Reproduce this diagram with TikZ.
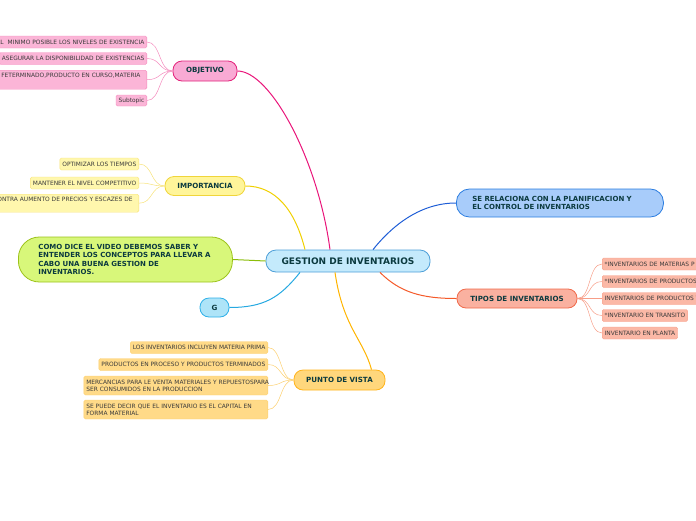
\documentclass[tikz,border=0pt]{standalone}
\usepackage{fontspec}
\setmainfont{DejaVu Sans}
\usetikzlibrary{positioning}

\definecolor{txtmain}{HTML}{0B3A3F}
\definecolor{txtsub}{HTML}{3A3A3A}
\definecolor{cenfill}{HTML}{C4EAFC}
\definecolor{cenline}{HTML}{4D9FD8}
\definecolor{pinkfill}{HTML}{F9AAD4}
\definecolor{pinkline}{HTML}{E2227A}
\definecolor{pinksub}{HTML}{FBB5D7}
\definecolor{pinksubline}{HTML}{F48BBD}
\definecolor{pinkwire}{HTML}{E9157A}
\definecolor{yelfill}{HTML}{FFF59A}
\definecolor{yelline}{HTML}{F0D53A}
\definecolor{yelsub}{HTML}{FFF7AD}
\definecolor{yelsubline}{HTML}{F7E27A}
\definecolor{yelwire}{HTML}{F0D000}
\definecolor{grnfill}{HTML}{D8F77A}
\definecolor{grnline}{HTML}{9CC21A}
\definecolor{grnwire}{HTML}{8BBD0A}
\definecolor{cyfill}{HTML}{AEE4F8}
\definecolor{cyline}{HTML}{2EB0E8}
\definecolor{cywire}{HTML}{27A9E1}
\definecolor{orfill}{HTML}{FFD77C}
\definecolor{orline}{HTML}{FFB31A}
\definecolor{orsub}{HTML}{FFDA88}
\definecolor{orsubline}{HTML}{FCCF6E}
\definecolor{orwire}{HTML}{FFB400}
\definecolor{blfill}{HTML}{A8CCFA}
\definecolor{blline}{HTML}{2B7DE0}
\definecolor{blwire}{HTML}{1F5ED6}
\definecolor{safill}{HTML}{FAB1A0}
\definecolor{saline}{HTML}{F06A4A}
\definecolor{sasub}{HTML}{FBB8A6}
\definecolor{sasubline}{HTML}{F79D87}
\definecolor{sawire}{HTML}{F45A2A}

\begin{document}
\begin{tikzpicture}[x=1pt, y=-1pt,
    topic/.style={draw, line width=0.8pt, rounded corners=9pt, inner sep=0pt,
        font=\bfseries\fontsize{7.1}{8.6}\selectfont, text=txtmain, minimum height=20pt},
    sub/.style={draw, line width=0.4pt, rounded corners=1.5pt, inner xsep=2.5pt, inner ysep=1pt,
        font=\fontsize{5.9}{7.2}\selectfont, text=txtsub, minimum height=12pt},
    wire/.style={line width=1pt},
    twig/.style={line width=0.5pt}]
    \useasboundingbox (0,0) rectangle (696,520);
    \clip (0,0) rectangle (696,520);

    % central topic
    \node[topic, fill=cenfill, draw=cenline, minimum width=164pt, minimum height=22pt,
        rounded corners=10pt, font=\bfseries\fontsize{9}{10}\selectfont] (gest) at (348,261) {GESTION DE INVENTARIOS};

    % main topics
    \node[topic, fill=pinkfill, draw=pinkline, minimum width=64pt] (obj) at (205,71) {OBJETIVO};
    \node[topic, fill=yelfill, draw=yelline, minimum width=80pt, minimum height=19pt] (imp) at (205,186) {IMPORTANCIA};
    \node[topic, fill=grnfill, draw=grnline, anchor=west, rounded corners=21pt, minimum height=45pt,
        inner xsep=20pt, text width=174pt, align=left, font=\bfseries\fontsize{7}{8.5}\selectfont] (video) at (18,259.5)
        {\mbox{COMO DICE EL VIDEO DEBEMOS SABER Y}\\\mbox{ENTENDER LOS CONCEPTOS PARA LLEVAR A}\\\mbox{CABO UNA BUENA GESTION DE}\\INVENTARIOS.};
    \node[topic, fill=cyfill, draw=cyline, minimum width=29pt, minimum height=19pt] (g) at (214.5,307.5) {G};
    \node[topic, fill=orfill, draw=orline, minimum width=91pt] (pdv) at (339.5,380) {PUNTO DE VISTA};
    \node[topic, fill=blfill, draw=blline, anchor=west, rounded corners=13pt, minimum height=28pt,
        inner xsep=16pt, text width=175pt, align=left, font=\bfseries\fontsize{7}{8.5}\selectfont] (rel) at (456,203)
        {\mbox{SE RELACIONA CON LA PLANIFICACION Y}\\EL CONTROL DE INVENTARIOS};
    \node[topic, fill=safill, draw=saline, minimum width=120pt, minimum height=19pt] (tipos) at (517,298.5) {TIPOS DE INVENTARIOS};

    % main branches
    \draw[wire, pinkwire] ([xshift=-18pt]gest.north) .. controls +(-12,-90) and +(33,0) .. (obj.east);
    \draw[wire, yelwire] ([xshift=-43pt]gest.north) .. controls +(-10,-40) and +(30,0) .. (imp.east);
    \draw[wire, grnwire] (gest.west) -- (video.east);
    \draw[wire, cywire] ([xshift=-48pt]gest.south) .. controls +(-20,25) and +(35,0) .. (g.east);
    \draw[wire, orwire] ([xshift=-13pt]gest.south) .. controls +(8,55) and +(-8,-30) .. ([xshift=32pt]pdv.north);
    \draw[wire, blwire] ([xshift=25pt]gest.north) .. controls +(20,-25) and +(-35,0) .. (rel.west);
    \draw[wire, sawire] ([xshift=32pt]gest.south) .. controls +(20,20) and +(-35,0) .. (tipos.west);

    % objetivo
    \node[sub, fill=pinksub, draw=pinksubline, anchor=east, text width=175pt, align=right] (o1) at (147,42)
        {AL\ \ MINIMO POSIBLE LOS NIVELES DE EXISTENCIA};
    \node[sub, fill=pinksub, draw=pinksubline, anchor=east] (o2) at (147,58.5) {ASEGURAR LA DISPONIBILIDAD DE EXISTENCIAS};
    \node[sub, fill=pinksub, draw=pinksubline, anchor=north east, minimum height=19pt, text width=175pt, align=left] (o3) at (147,70)
        {\mbox{\hspace*{32pt}FETERMINADO,PRODUCTO EN CURSO,MATERIA}\\ \strut};
    \node[sub, fill=pinksub, draw=pinksubline, anchor=east, minimum height=11pt] (o4) at (147,100.5) {Subtopic};
    \foreach \k in {o1,o2,o3,o4}
        \draw[twig, pinksubline] (obj.west) .. controls +(-14,0) and +(14,0) .. (\k.east);

    % importancia
    \node[sub, fill=yelsub, draw=yelsubline, anchor=east] (i1) at (139,164) {OPTIMIZAR LOS TIEMPOS};
    \node[sub, fill=yelsub, draw=yelsubline, anchor=east] (i2) at (139,183) {MANTENER EL NIVEL COMPETITIVO};
    \node[sub, fill=yelsub, draw=yelsubline, anchor=north east, minimum height=18pt, text width=170pt, align=left] (i3) at (139,194)
        {\mbox{\hspace*{27pt}CONTRA AUMENTO DE PRECIOS Y ESCAZES DE}\\\mbox{\hspace*{27pt}A}};
    \foreach \k in {i1,i2,i3}
        \draw[twig, yelsubline] (imp.west) .. controls +(-14,0) and +(14,0) .. (\k.east);

    % punto de vista
    \node[sub, fill=orsub, draw=orsubline, anchor=east] (p1) at (268,347.5) {LOS INVENTARIOS INCLUYEN MATERIA PRIMA};
    \node[sub, fill=orsub, draw=orsubline, anchor=east] (p2) at (268,364.5) {PRODUCTOS EN PROCESO Y PRODUCTOS TERMINADOS};
    \node[sub, fill=orsub, draw=orsubline, anchor=east, minimum height=19pt, text width=179pt, align=left] (p3) at (268,385.5)
        {\mbox{MERCANCIAS PARA LE VENTA MATERIALES Y REPUESTOSPARA}\\SER CONSUMIDOS EN LA PRODUCCION};
    \node[sub, fill=orsub, draw=orsubline, anchor=east, minimum height=19pt, text width=179pt, align=left] (p4) at (268,409.5)
        {\mbox{SE PUEDE DECIR QUE EL INVENTARIO ES EL CAPITAL EN}\\FORMA MATERIAL};
    \foreach \k in {p1,p2,p3,p4}
        \draw[twig, orsubline] (pdv.west) .. controls +(-14,0) and +(14,0) .. (\k.east);

    % tipos de inventarios
    \node[sub, fill=sasub, draw=sasubline, anchor=west, text width=160pt, align=left] (t1) at (602,264) {*INVENTARIOS DE MATERIAS P};
    \node[sub, fill=sasub, draw=sasubline, anchor=west, text width=160pt, align=left] (t2) at (602,281.5) {*INVENTARIOS DE PRODUCTOS};
    \node[sub, fill=sasub, draw=sasubline, anchor=west, text width=160pt, align=left] (t3) at (602,298.5) {INVENTARIOS DE PRODUCTOS T};
    \node[sub, fill=sasub, draw=sasubline, anchor=west] (t4) at (602,315.5) {*INVENTARIO EN TRANSITO};
    \node[sub, fill=sasub, draw=sasubline, anchor=west] (t5) at (602,333) {INVENTARIO EN PLANTA};
    \foreach \k in {t1,t2,t3,t4,t5}
        \draw[twig, sasubline] (tipos.east) .. controls +(14,0) and +(-14,0) .. (\k.west);
\end{tikzpicture}
\end{document}
